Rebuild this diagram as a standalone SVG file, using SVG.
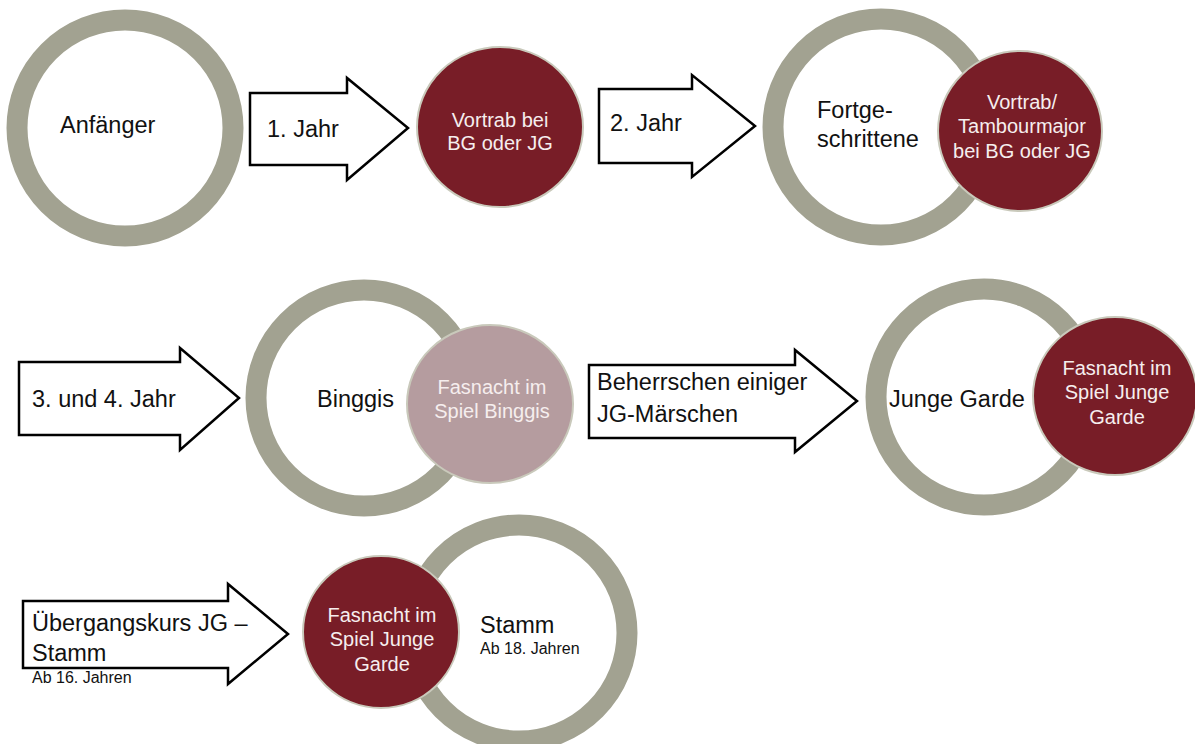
<svg xmlns="http://www.w3.org/2000/svg" width="1195" height="744" viewBox="0 0 1195 744">
<style>
.ring{fill:#ffffff;stroke:#a2a291;stroke-width:21}
.red{fill:#781d27;stroke:#c9c9bb;stroke-width:2}
.pink{fill:#b59c9f;stroke:#c9c9bb;stroke-width:2}
.arrow{fill:#ffffff;stroke:#000000;stroke-width:2.5;stroke-linejoin:miter}
.t{font-family:"Liberation Sans",Arial,Helvetica,sans-serif;font-size:23.5px;fill:#111111}
.w{font-family:"Liberation Sans",Arial,Helvetica,sans-serif;font-size:20px;fill:#f6eeee;text-anchor:middle}
.s{font-family:"Liberation Sans",Arial,Helvetica,sans-serif;font-size:16px;fill:#111111}
</style>
<rect x="0" y="0" width="1195" height="744" fill="#ffffff"/>
<g id="connectors">
<polygon class="arrow" points="250,93 347,93 347,78 408,128 347,180 347,165 250,165"/>
<text class="t" x="267" y="137">1. Jahr</text>
<polygon class="arrow" points="599,89 692,89 692,75 755,126 692,177 692,163 599,163"/>
<text class="t" x="610" y="131">2. Jahr</text>
<polygon class="arrow" points="19,362 180,362 180,348 239,398 180,450 180,435 19,435"/>
<text class="t" x="32" y="407">3. und 4. Jahr</text>
<polygon class="arrow" points="589,365 795,365 795,350 857,401 795,452 795,438 589,438"/>
<text class="t" x="597" y="390">Beherrschen einiger</text>
<text class="t" x="597" y="422">JG-Märschen</text>
<polygon class="arrow" points="23,601 228,601 228,584 288,634 228,684 228,668 23,668"/>
<text class="t" x="32" y="631">Übergangskurs JG –</text>
<text class="t" x="32" y="661">Stamm</text>
<text class="s" x="32" y="683">Ab 16. Jahren</text>
</g>
<g id="anfaenger">
<circle class="ring" cx="125" cy="128" r="108"/>
<text class="t" x="60" y="133">Anfänger</text>
</g>
<g id="vortrab">
<ellipse class="red" cx="500" cy="127" rx="83" ry="80"/>
<text class="w" x="500" y="127">Vortrab bei</text>
<text class="w" x="500" y="150">BG oder JG</text>
</g>
<g id="fortgeschrittene">
<circle class="ring" cx="881" cy="127" r="108"/>
<text class="t" x="817" y="118">Fortge-</text>
<text class="t" x="817" y="147">schrittene</text>
</g>
<g id="tambourmajor">
<ellipse class="red" cx="1020" cy="131" rx="82" ry="80"/>
<text class="w" x="1022" y="109">Vortrab/</text>
<text class="w" x="1022" y="133">Tambourmajor</text>
<text class="w" x="1022" y="158">bei BG oder JG</text>
</g>
<g id="binggis">
<circle class="ring" cx="364" cy="398" r="108"/>
<text class="t" x="317" y="407">Binggis</text>
</g>
<g id="fasnacht-binggis">
<ellipse class="pink" cx="490" cy="404" rx="83" ry="79"/>
<text class="w" x="492" y="394">Fasnacht im</text>
<text class="w" x="492" y="418">Spiel Binggis</text>
</g>
<g id="junge-garde">
<circle class="ring" cx="984" cy="397" r="108"/>
<text class="t" x="889" y="407">Junge Garde</text>
</g>
<g id="fasnacht-jg">
<ellipse class="red" cx="1115" cy="396" rx="82" ry="79"/>
<text class="w" x="1117" y="375">Fasnacht im</text>
<text class="w" x="1117" y="399">Spiel Junge</text>
<text class="w" x="1117" y="424">Garde</text>
</g>
<g id="stamm">
<circle class="ring" cx="519" cy="633" r="108"/>
<text class="t" x="480" y="633">Stamm</text>
<text class="s" x="480" y="654">Ab 18. Jahren</text>
</g>
<g id="fasnacht-jg-stamm">
<ellipse class="red" cx="381" cy="632" rx="78" ry="76"/>
<text class="w" x="382" y="622">Fasnacht im</text>
<text class="w" x="382" y="646">Spiel Junge</text>
<text class="w" x="382" y="671">Garde</text>
</g>
</svg>
